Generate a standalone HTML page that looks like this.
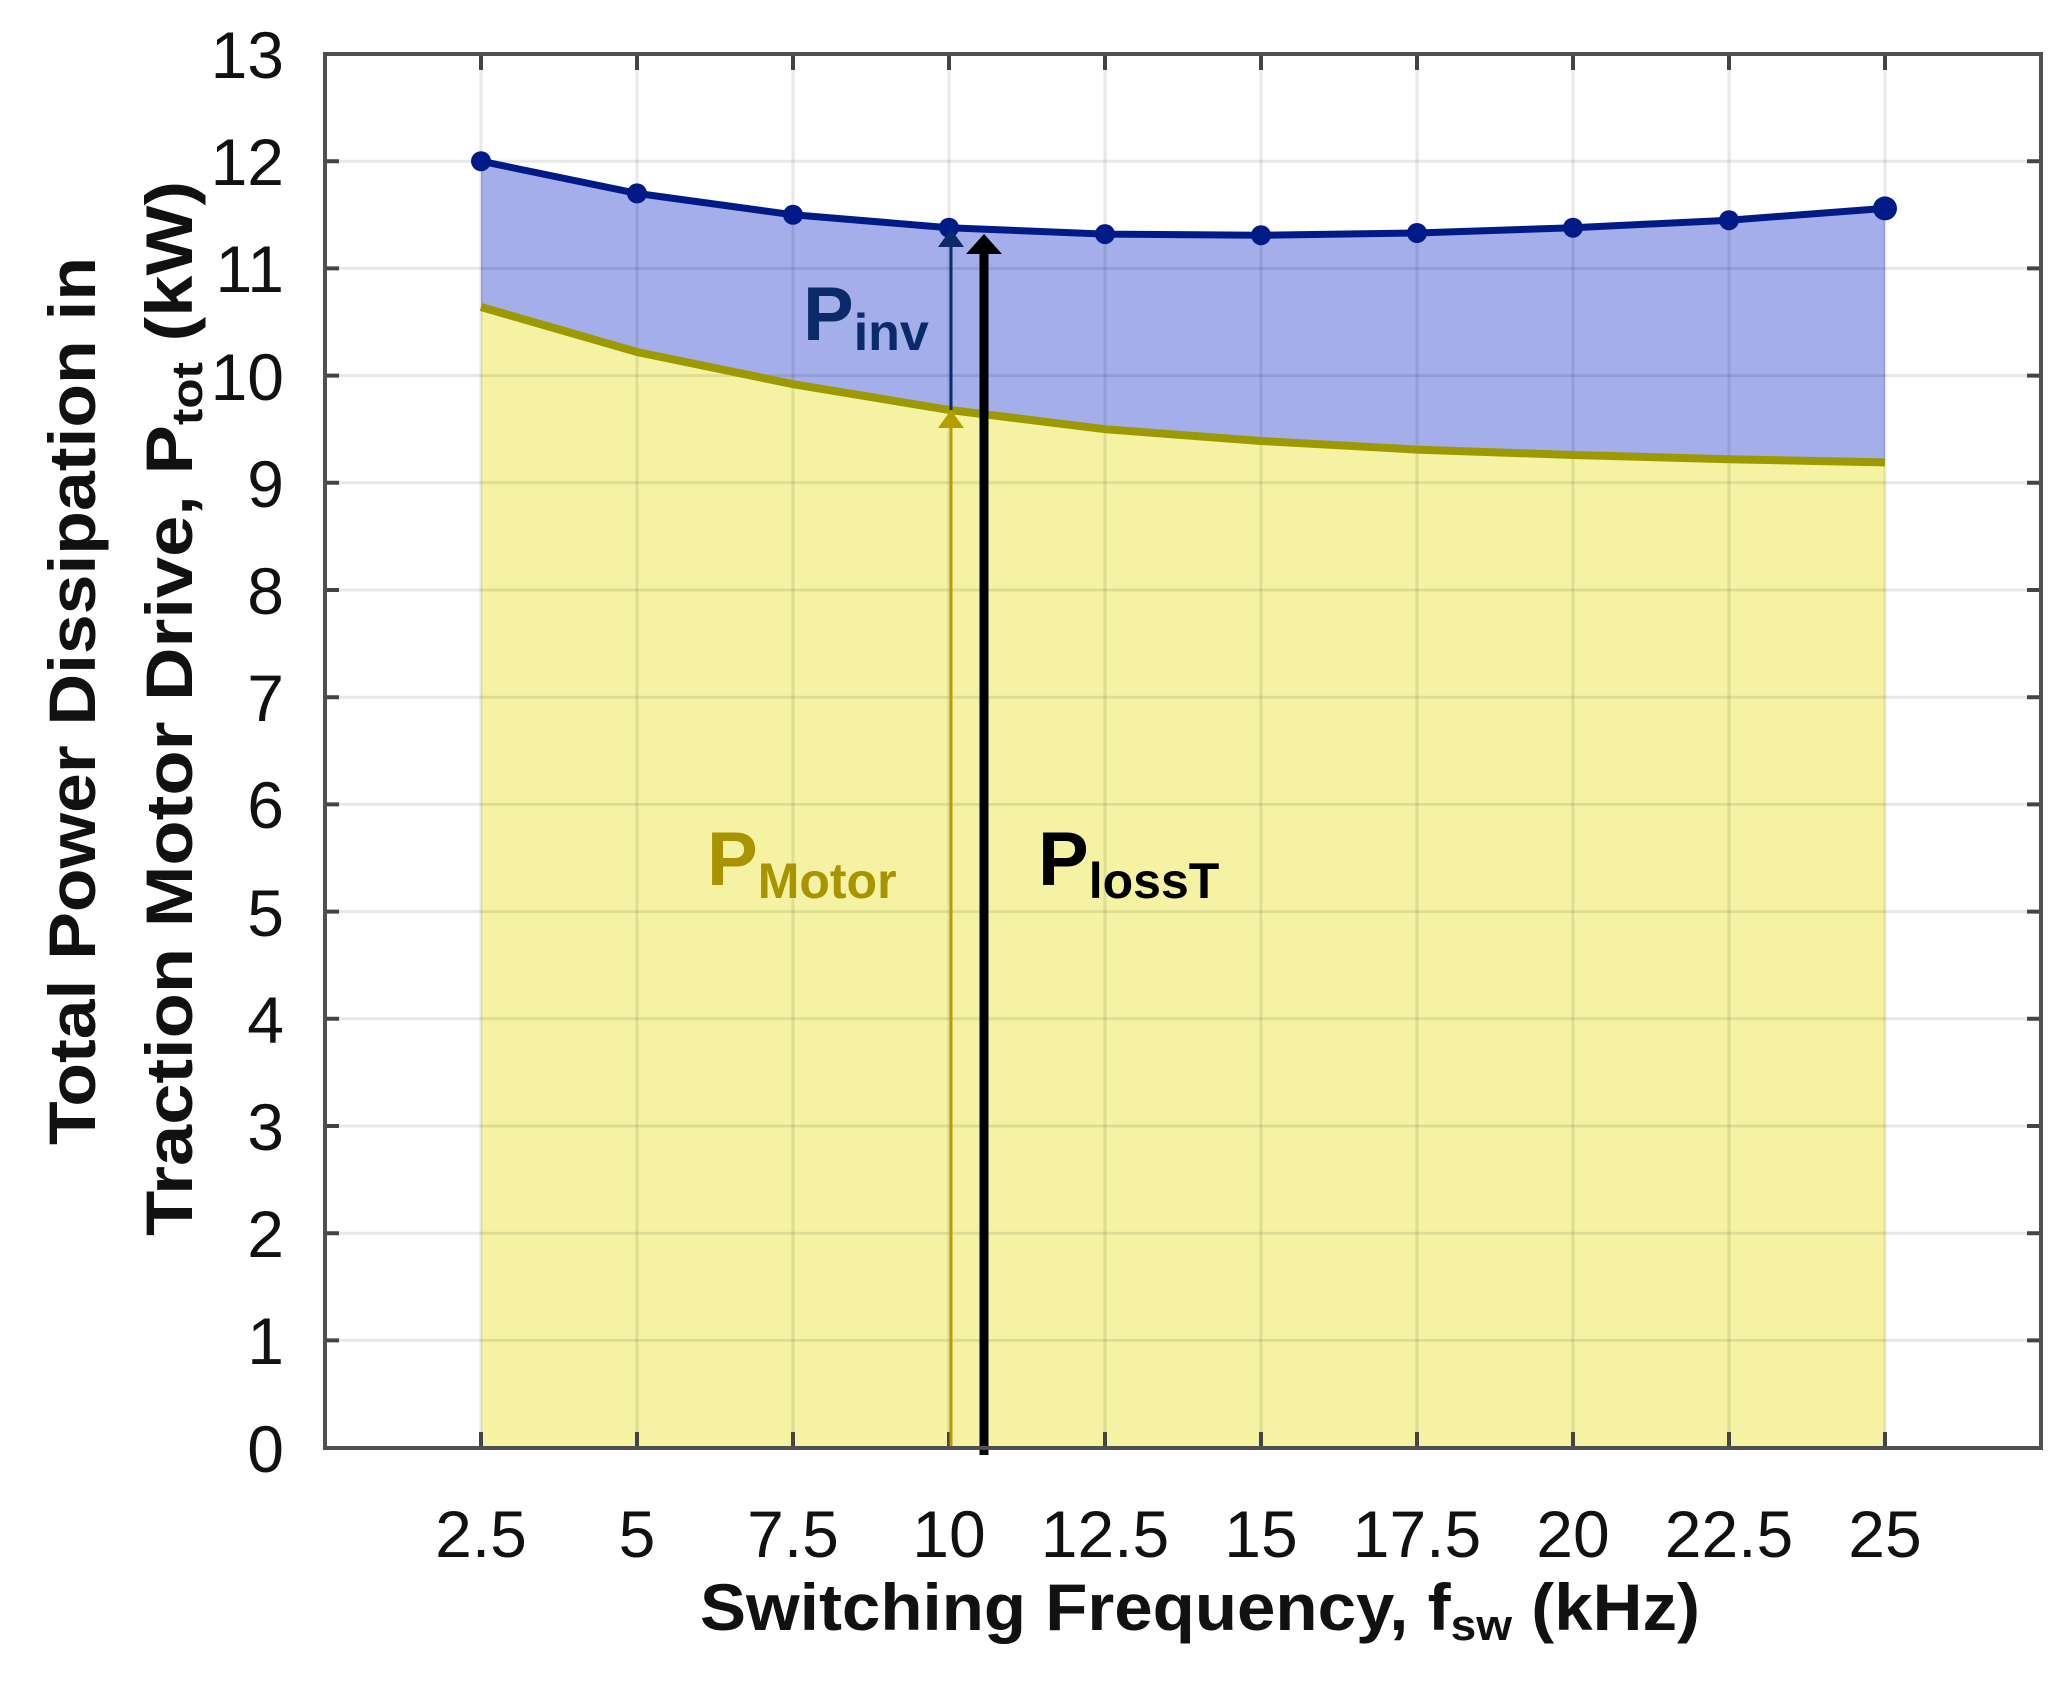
<!DOCTYPE html>
<html><head><meta charset="utf-8"><style>html,body{margin:0;padding:0;background:#fff}svg{display:block}</style></head>
<body>
<svg width="2068" height="1685" viewBox="0 0 2068 1685" xmlns="http://www.w3.org/2000/svg" font-family="'Liberation Sans', sans-serif">
<rect width="2068" height="1685" fill="#fff"/>
<!-- fills -->
<polygon fill="#f5f3a3" points="481,307 637,352 793,384.2 949,409.9 1105,429.2 1261,441 1417,449.6 1573,455 1729,459.2 1885,462.4 1885,1448 481,1448"/>
<polygon fill="#a3aeea" points="481,161.2 637,193.4 793,214.8 949,227.7 1105,234.1 1261,235.2 1417,233 1573,227.7 1729,220.2 1885,208.4 1885,462.4 1729,459.2 1573,455 1417,449.6 1261,441 1105,429.2 949,409.9 793,384.2 637,352 481,307"/>
<!-- grid -->
<g stroke="rgba(0,0,0,0.09)" stroke-width="3">
<line x1="325" x2="2041" y1="161.2" y2="161.2"/><line x1="325" x2="2041" y1="268.4" y2="268.4"/><line x1="325" x2="2041" y1="375.6" y2="375.6"/><line x1="325" x2="2041" y1="482.8" y2="482.8"/><line x1="325" x2="2041" y1="590" y2="590"/><line x1="325" x2="2041" y1="697.2" y2="697.2"/><line x1="325" x2="2041" y1="804.4" y2="804.4"/><line x1="325" x2="2041" y1="911.6" y2="911.6"/><line x1="325" x2="2041" y1="1018.8" y2="1018.8"/><line x1="325" x2="2041" y1="1126" y2="1126"/><line x1="325" x2="2041" y1="1233.2" y2="1233.2"/><line x1="325" x2="2041" y1="1340.4" y2="1340.4"/>
<line y1="54" y2="1448" x1="481" x2="481"/><line y1="54" y2="1448" x1="637" x2="637"/><line y1="54" y2="1448" x1="793" x2="793"/><line y1="54" y2="1448" x1="949" x2="949"/><line y1="54" y2="1448" x1="1105" x2="1105"/><line y1="54" y2="1448" x1="1261" x2="1261"/><line y1="54" y2="1448" x1="1417" x2="1417"/><line y1="54" y2="1448" x1="1573" x2="1573"/><line y1="54" y2="1448" x1="1729" x2="1729"/><line y1="54" y2="1448" x1="1885" x2="1885"/>
</g>
<!-- ticks -->
<g stroke="#444" stroke-width="4">
<path d="M325,161.2h14M325,268.4h14M325,375.6h14M325,482.8h14M325,590h14M325,697.2h14M325,804.4h14M325,911.6h14M325,1018.8h14M325,1126h14M325,1233.2h14M325,1340.4h14"/>
<path d="M2041,161.2h-14M2041,268.4h-14M2041,375.6h-14M2041,482.8h-14M2041,590h-14M2041,697.2h-14M2041,804.4h-14M2041,911.6h-14M2041,1018.8h-14M2041,1126h-14M2041,1233.2h-14M2041,1340.4h-14"/>
<path d="M481,54v16M637,54v16M793,54v16M949,54v16M1105,54v16M1261,54v16M1417,54v16M1573,54v16M1729,54v16M1885,54v16"/>
<path d="M481,1448v-16M637,1448v-16M793,1448v-16M949,1448v-16M1105,1448v-16M1261,1448v-16M1417,1448v-16M1573,1448v-16M1729,1448v-16M1885,1448v-16"/>
</g>
<!-- curves -->
<polyline fill="none" stroke="#9c9a00" stroke-width="8" points="481,307 637,352 793,384.2 949,409.9 1105,429.2 1261,441 1417,449.6 1573,455 1729,459.2 1885,462.4"/>
<polyline fill="none" stroke="#001a88" stroke-width="7" points="481,161.2 637,193.4 793,214.8 949,227.7 1105,234.1 1261,235.2 1417,233 1573,227.7 1729,220.2 1885,208.4"/>
<g fill="#001a88">
<circle cx="481" cy="161.2" r="10"/><circle cx="637" cy="193.4" r="10"/><circle cx="793" cy="214.8" r="10"/><circle cx="949" cy="227.7" r="10"/><circle cx="1105" cy="234.1" r="10"/><circle cx="1261" cy="235.2" r="10"/><circle cx="1417" cy="233" r="10"/><circle cx="1573" cy="227.7" r="10"/><circle cx="1729" cy="220.2" r="10"/><circle cx="1885" cy="208.4" r="12"/>
</g>
<!-- arrows -->
<line x1="951" y1="1450" x2="951" y2="425" stroke="#b59f00" stroke-width="3"/>
<polygon points="951,410 938,428 964,428" fill="#b59f00"/>
<line x1="951" y1="410" x2="951" y2="244" stroke="#0a2a6a" stroke-width="3"/>
<polygon points="951,229 938,247 964,247" fill="#0a2a6a"/>
<line x1="984" y1="1455" x2="984" y2="250" stroke="#000" stroke-width="9"/>
<polygon points="984,234 966,254 1002,254" fill="#000"/>
<!-- axes box -->
<rect x="325" y="54" width="1716" height="1394" fill="none" stroke="#505050" stroke-width="4"/>
<!-- annotations -->
<text x="803" y="340" font-size="76" font-weight="bold" fill="#0a2a6a">P<tspan font-size="52" dy="10">inv</tspan></text>
<text x="707" y="885" font-size="76" font-weight="bold" fill="#a89400">P<tspan font-size="50" dy="13">Motor</tspan></text>
<text x="1038" y="885" font-size="76" font-weight="bold" fill="#000">P<tspan font-size="50" dy="13">lossT</tspan></text>
<!-- y tick labels -->
<g font-size="66" fill="#111" text-anchor="end">
<text x="284" y="78">13</text><text x="284" y="185">12</text><text x="284" y="292">11</text><text x="284" y="400">10</text><text x="284" y="507">9</text><text x="284" y="614">8</text><text x="284" y="721">7</text><text x="284" y="828">6</text><text x="284" y="936">5</text><text x="284" y="1043">4</text><text x="284" y="1150">3</text><text x="284" y="1257">2</text><text x="284" y="1364">1</text><text x="284" y="1472">0</text>
</g>
<!-- x tick labels -->
<g font-size="66" fill="#111" text-anchor="middle">
<text x="481" y="1557">2.5</text><text x="637" y="1557">5</text><text x="793" y="1557">7.5</text><text x="949" y="1557">10</text><text x="1105" y="1557">12.5</text><text x="1261" y="1557">15</text><text x="1417" y="1557">17.5</text><text x="1573" y="1557">20</text><text x="1729" y="1557">22.5</text><text x="1885" y="1557">25</text>
</g>
<text x="700" y="1630" font-size="66" font-weight="bold" fill="#111" textLength="1000" lengthAdjust="spacingAndGlyphs">Switching Frequency, f<tspan font-size="44" dy="10">sw</tspan><tspan dy="-10"> (kHz)</tspan></text>
<!-- y title -->
<text transform="translate(95,1145) rotate(-90)" font-size="66" font-weight="bold" fill="#111" textLength="888" lengthAdjust="spacingAndGlyphs">Total Power Dissipation in</text>
<text transform="translate(192,1236) rotate(-90)" font-size="66" font-weight="bold" fill="#111" textLength="1055" lengthAdjust="spacingAndGlyphs">Traction Motor Drive, P<tspan font-size="44" dy="10">tot</tspan><tspan dy="-10"> (kW)</tspan></text>
</svg>
</body></html>
